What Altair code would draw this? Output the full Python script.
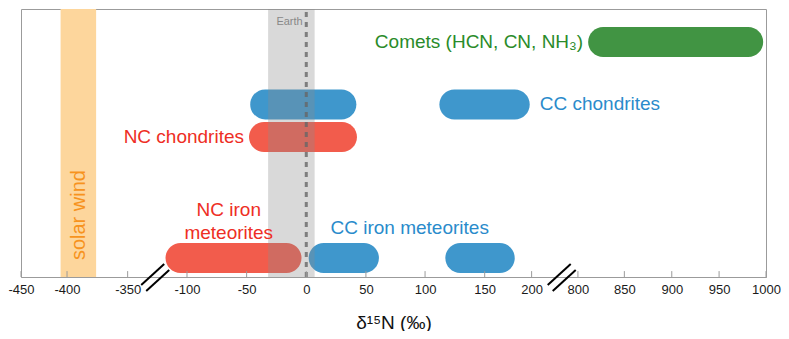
import altair as alt
import pandas as pd

FONT = "Liberation Sans"
PLOT_W = 745

# ---- axis (broken, piecewise) ----
tick_values = [-450, -400, -350, -100, -50, 0, 50, 100, 150, 200, 800, 850, 900, 950, 1000]
scale_domain = [-450, -400, -350, -125, -100, -50, 0, 50, 100, 150, 200, 800, 850, 900, 950, 1000]
scale_stops = [0, 46.3, 107.3, 137, 167, 227, 287, 347, 406.5, 466.5, 513.7, 560.3, 607, 654.7, 702.3, 749.5]
scale_range = [s * PLOT_W / scale_stops[-1] for s in scale_stops]
break_values = [-140, 590]

# ---- ranges (bars) ----
bar_group = ["Comets", "CC", "CC", "NC", "NC", "CC", "CC"]
bar_start = [811, 112, -47, -48, -118, 2, 117]
bar_end = [997, 198, 42, 42.5, -4, 61, 182]
bar_level = [87.7, 64.4, 64.4, 52.2, 7.1, 7.1, 7.1]

group_names = ["Comets", "CC", "NC"]
group_colors = ["#419443", "#3F97CC", "#F25C4C"]

# ---- reference bands ----
earth_band = [-32, 7]
solar_band = [-407, -376]

# ---- labels ----
label_text = ["Comets (HCN, CN, NH\u2083)", "NC chondrites", "CC chondrites",
              "NC iron", "meteorites", "CC iron meteorites"]
label_x = [811, -48, 198, -65, -65, 87]
label_y = [87.7, 52.2, 64.4, 25.0, 16.4, 18.3]
label_color = ["#2A8B2A", "#EE2E24", "#2A8BCB", "#EE2E24", "#EE2E24", "#2A8BCB"]
label_align = ["right", "right", "left", "center", "center", "center"]
label_dx = [-5, -5, 10, 0, 0, 0]

xscale = alt.Scale(domain=scale_domain, range=scale_range, nice=False, zero=False, padding=0)
yscale = alt.Scale(domain=[0, 100], nice=False, zero=False, padding=0)

bars_df = pd.DataFrame({"group": bar_group, "start": bar_start, "end": bar_end, "level": bar_level})

xaxis = alt.Axis(
    values=tick_values, labelExpr="'' + datum.value", ticks=False, tickSize=0, grid=False,
    labelFontSize=13, labelFont=FONT, labelColor="#1a1a1a", labelPadding=6,
    domainColor="#9b9b9b", labelFlush=False,
    title="δ¹⁵N (‰)", titleFont=FONT, titleFontSize=19, titleFontWeight="normal",
    titleColor="#111", titlePadding=17,
)

solar = alt.Chart(pd.DataFrame({"a": [solar_band[0]], "b": [solar_band[1]], "y0": [0], "y1": [100]})).mark_rect(
    color="#FDD69C").encode(
    x=alt.X("a:Q", scale=xscale, axis=xaxis), x2="b:Q",
    y=alt.Y("y0:Q", scale=yscale, axis=None), y2="y1:Q")

bars = alt.Chart(bars_df).mark_bar(size=30, cornerRadius=15, orient="horizontal").encode(
    x=alt.X("start:Q"),
    x2="end:Q",
    y=alt.Y("level:Q"),
    color=alt.Color("group:N", scale=alt.Scale(domain=group_names, range=group_colors), legend=None),
)

earth = alt.Chart(pd.DataFrame({"a": [earth_band[0]], "b": [earth_band[1]], "y0": [0], "y1": [100]})).mark_rect(
    color="#8d8d8d", opacity=0.33).encode(
    x=alt.X("a:Q"), x2="b:Q", y=alt.Y("y0:Q"), y2="y1:Q")

zero_line = alt.Chart(pd.DataFrame({"z": [0], "y0": [0], "y1": [100]})).mark_rule(
    strokeDash=[5, 5], strokeWidth=3, color="#666", opacity=0.8).encode(
    x=alt.X("z:Q"), y=alt.Y("y0:Q"), y2="y1:Q")

earth_text = alt.Chart(pd.DataFrame({"t": ["Earth"], "x": [-3], "y": [95.1]})).mark_text(
    align="right", baseline="middle", font=FONT, fontSize=11, color="#888").encode(
    x=alt.X("x:Q"), y=alt.Y("y:Q"), text="t:N")

solar_text = alt.Chart(pd.DataFrame({"t": ["solar wind"], "x": [-390], "y": [23.1]})).mark_text(
    align="center", baseline="middle", font=FONT, fontSize=20, color="#F7931E", angle=270).encode(
    x=alt.X("x:Q"), y=alt.Y("y:Q"), text="t:N")

label_layers = []
for t, x, y, c, a, d in zip(label_text, label_x, label_y, label_color, label_align, label_dx):
    label_layers.append(
        alt.Chart(pd.DataFrame({"t": [t], "x": [x], "y": [y]})).mark_text(
            align=a, baseline="middle", font=FONT, fontSize=19, dx=d, color=c).encode(
            x=alt.X("x:Q"), y=alt.Y("y:Q"), text="t:N"))

ticks = alt.Chart(pd.DataFrame({"v": tick_values, "y0": 0, "y1": 2.2})).mark_rule(
    color="#9b9b9b", strokeWidth=1).encode(
    x=alt.X("v:Q"), y=alt.Y("y0:Q"), y2="y1:Q")

brk_df = pd.DataFrame({"b": break_values, "y0": 0})
brk_a = alt.Chart(brk_df).mark_rule(color="black", strokeWidth=2,
                                    xOffset=-14, x2Offset=9, yOffset=8, y2Offset=-13).encode(
    x=alt.X("b:Q"), x2="b:Q", y=alt.Y("y0:Q"), y2="y0:Q")
brk_b = alt.Chart(brk_df).mark_rule(color="black", strokeWidth=2,
                                    xOffset=-9, x2Offset=14, yOffset=14, y2Offset=-7).encode(
    x=alt.X("b:Q"), x2="b:Q", y=alt.Y("y0:Q"), y2="y0:Q")

chart = alt.layer(
    solar, bars, earth, zero_line, earth_text, solar_text, *label_layers, ticks, brk_a, brk_b
).properties(
    width=PLOT_W, height=268,
    autosize=alt.AutoSizeParams(type="none"),
    padding={"left": 13, "top": 1, "right": 15, "bottom": 54},
).configure_view(stroke="#9b9b9b", strokeWidth=1)

chart.save("out.html", embed_options={"renderer": "svg", "actions": False})
